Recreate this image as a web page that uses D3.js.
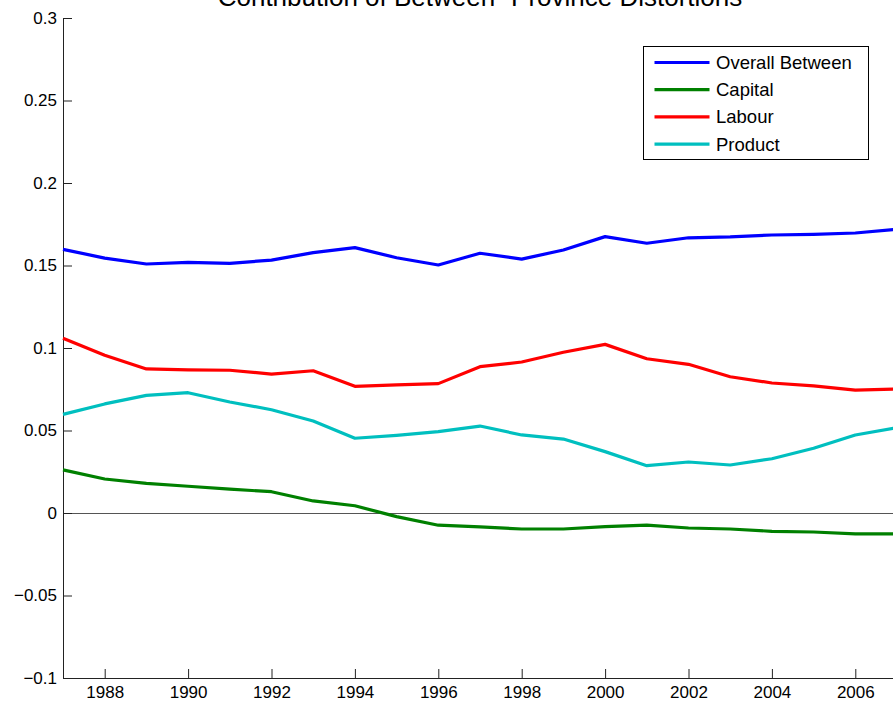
<!DOCTYPE html>
<html>
<head>
<meta charset="utf-8">
<script src="https://cdn.jsdelivr.net/npm/d3@7"></script>
<style>
  body { margin: 0; background: #fff; overflow: hidden; }
  text { font-family: "Liberation Sans", Arial, sans-serif; }
</style>
</head>
<body>
<div class="chart"></div>
<script>
// data
var years = d3.range(1987, 2008);
var overallBetween = [0.1598, 0.1545, 0.1509, 0.1519, 0.1513, 0.1533, 0.1578, 0.1608, 0.1547, 0.1503,
  0.1574, 0.1539, 0.1594, 0.1675, 0.1635, 0.1668, 0.1673, 0.1685, 0.1689, 0.1697, 0.1719];
var capital = [0.0261, 0.0206, 0.0180, 0.0162, 0.0145, 0.0129, 0.0073, 0.0044, -0.0022, -0.0074,
  -0.0084, -0.0097, -0.0097, -0.0083, -0.0073, -0.0091, -0.0097, -0.0111, -0.0115, -0.0127, -0.0127];
var labour = [0.1059, 0.0956, 0.0873, 0.0868, 0.0865, 0.0842, 0.0862, 0.0768, 0.0776, 0.0784,
  0.0887, 0.0915, 0.0974, 0.1022, 0.0935, 0.0901, 0.0826, 0.0788, 0.0770, 0.0745, 0.0752];
var product = [0.0598, 0.0661, 0.0713, 0.0729, 0.0673, 0.0626, 0.0558, 0.0453, 0.0471, 0.0493,
  0.0527, 0.0473, 0.0448, 0.0372, 0.0287, 0.0309, 0.0291, 0.0329, 0.0392, 0.0473, 0.0517];
var seriesNames = ["Overall Between", "Capital", "Labour", "Product"];
var seriesColors = ["#0000ff", "#008000", "#ff0000", "#00bfbf"];
var xTicks = d3.range(1988, 2007, 2);
var yTicks = [-0.1, -0.05, 0, 0.05, 0.1, 0.15, 0.2, 0.25, 0.3];

const width = 893, height = 702;
const margin = {top: 18, left: 63};
const plotRight = 897, plotBottom = 678;

const svg = d3.select(".chart").append("svg")
    .attr("width", width)
    .attr("height", height);

var x = d3.scaleLinear().domain([1987, 2007]).range([margin.left, plotRight]);
var y = d3.scaleLinear().domain([-0.1, 0.3]).range([plotBottom, margin.top]);

// zero line
svg.append("line")
    .attr("x1", x(1987)).attr("x2", x(2007))
    .attr("y1", y(0) + 0.5).attr("y2", y(0) + 0.5)
    .attr("stroke", "#555").attr("stroke-width", 1);

var fmt = function(d) { return d === 0 ? "0" : d3.format("")(d).replace("-", "\u2212"); };

// axes, ticks point inward like matlab
const yAxis = svg.append("g")
    .attr("transform", `translate(${margin.left},0)`)
    .call(d3.axisLeft(y).tickValues(yTicks).tickFormat(fmt).tickSizeInner(-9).tickSizeOuter(0).tickPadding(6));
const xAxis = svg.append("g")
    .attr("transform", `translate(0,${plotBottom})`)
    .call(d3.axisBottom(x).tickValues(xTicks).tickFormat(d3.format("d")).tickSizeInner(-9).tickSizeOuter(0).tickPadding(6));

[xAxis, yAxis].forEach(function(g) {
  g.select(".domain").attr("stroke", "#222");
  g.selectAll(".tick line").attr("stroke", "#222");
  g.selectAll(".tick text").attr("fill", "#000").style("font-size", "17px")
    .style("font-family", "'Liberation Sans', Arial, sans-serif");
});
yAxis.selectAll(".tick text").attr("x", -6);
xAxis.selectAll(".tick text").attr("y", 8);

var allSeries = [overallBetween, capital, labour, product];
var line = d3.line().x((d, i) => x(years[i])).y(d => y(d));

svg.append("g").selectAll("path")
  .data(allSeries)
  .join("path")
    .attr("d", line)
    .attr("fill", "none")
    .attr("stroke", (d, i) => seriesColors[i])
    .attr("stroke-width", 3.2)
    .attr("stroke-linejoin", "round");

// title, mostly cut off by the top edge
svg.append("text")
    .attr("x", (margin.left + plotRight) / 2)
    .attr("y", 6)
    .attr("text-anchor", "middle")
    .style("font-size", "26px")
    .text("Contribution of Between- Province Distortions");

// legend
const legend = svg.append("g").attr("transform", "translate(643.5,46.5)");
legend.append("rect")
    .attr("width", 225).attr("height", 113)
    .attr("fill", "#fff").attr("stroke", "#000").attr("stroke-width", 1);
const item = legend.selectAll("g.item")
  .data(seriesNames)
  .join("g")
    .attr("class", "item")
    .attr("transform", (d, i) => `translate(0,${16 + i * 27.2})`);
item.append("line")
    .attr("x1", 11).attr("x2", 66)
    .attr("stroke", (d, i) => seriesColors[i])
    .attr("stroke-width", 3.2);
item.append("text")
    .attr("x", 72.5).attr("dy", "0.35em")
    .style("font-size", "18.5px")
    .text(d => d);
</script>
</body>
</html>
